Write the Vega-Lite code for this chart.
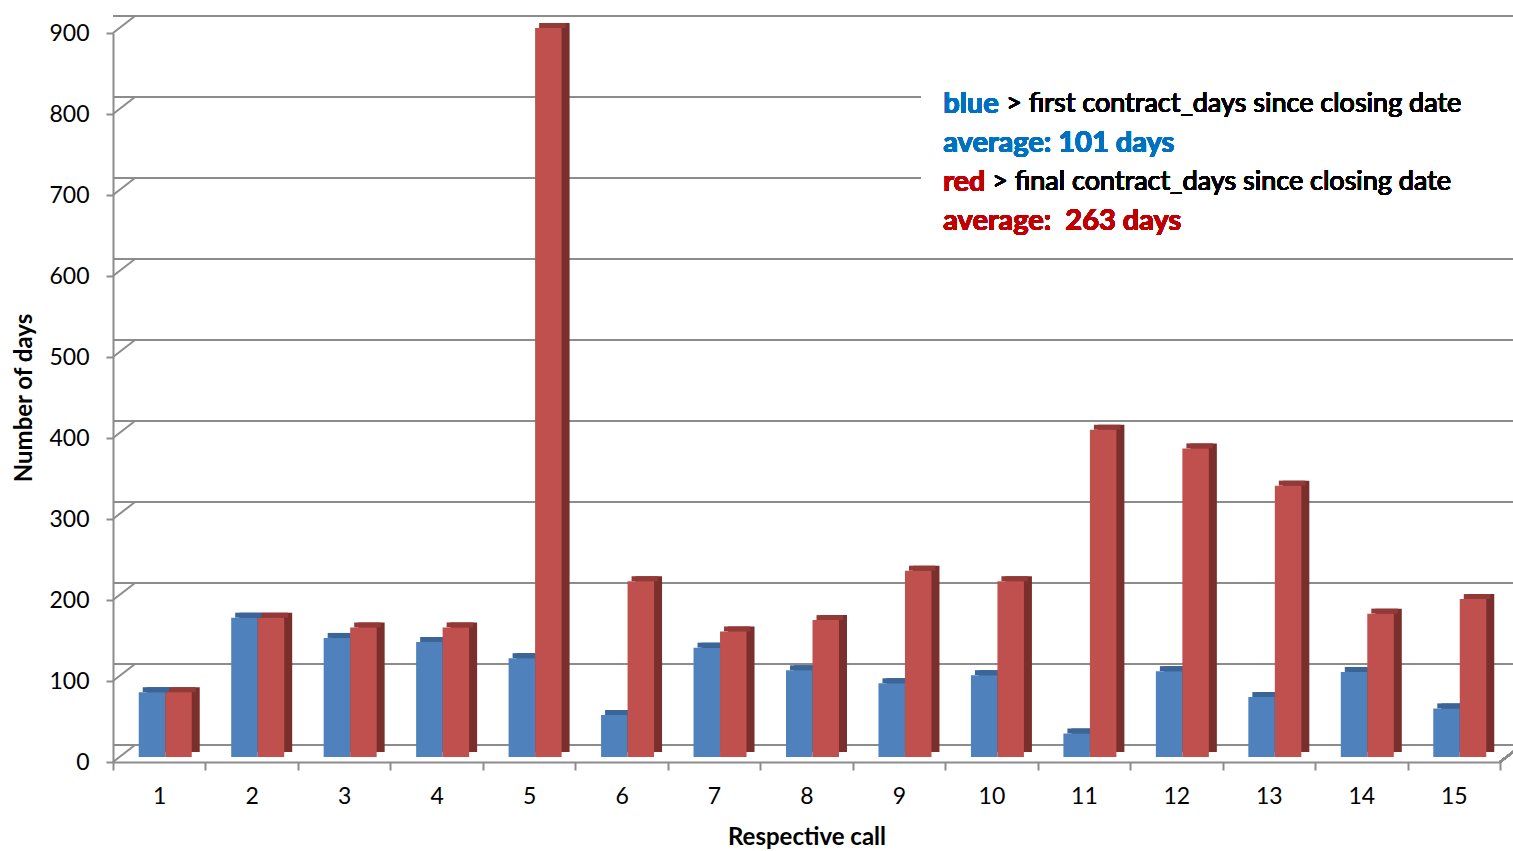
{
  "$schema": "https://vega.github.io/schema/vega-lite/v6.json",
  "width": 1387,
  "height": 729,
  "autosize": {"type": "none"},
  "padding": {"left": 113, "top": 33, "right": 13, "bottom": 89},
  "background": "white",
  "config": {"view": {"stroke": null}, "font": "Lato"},
  "datasets": {
    "calls": [
      {"call": 1, "series": "first", "days": 80}, {"call": 1, "series": "final", "days": 80},
      {"call": 2, "series": "first", "days": 172}, {"call": 2, "series": "final", "days": 172},
      {"call": 3, "series": "first", "days": 147}, {"call": 3, "series": "final", "days": 160},
      {"call": 4, "series": "first", "days": 142}, {"call": 4, "series": "final", "days": 160},
      {"call": 5, "series": "first", "days": 122}, {"call": 5, "series": "final", "days": 900},
      {"call": 6, "series": "first", "days": 52}, {"call": 6, "series": "final", "days": 217},
      {"call": 7, "series": "first", "days": 135}, {"call": 7, "series": "final", "days": 155},
      {"call": 8, "series": "first", "days": 107}, {"call": 8, "series": "final", "days": 169},
      {"call": 9, "series": "first", "days": 91}, {"call": 9, "series": "final", "days": 230},
      {"call": 10, "series": "first", "days": 101}, {"call": 10, "series": "final", "days": 217},
      {"call": 11, "series": "first", "days": 29}, {"call": 11, "series": "final", "days": 404},
      {"call": 12, "series": "first", "days": 106}, {"call": 12, "series": "final", "days": 381},
      {"call": 13, "series": "first", "days": 74}, {"call": 13, "series": "final", "days": 335},
      {"call": 14, "series": "first", "days": 105}, {"call": 14, "series": "final", "days": 177},
      {"call": 15, "series": "first", "days": 60}, {"call": 15, "series": "final", "days": 195}
    ],
    "ticks": [{"v": 0}, {"v": 100}, {"v": 200}, {"v": 300}, {"v": 400}, {"v": 500}, {"v": 600}, {"v": 700}, {"v": 800}, {"v": 900}]
  },
  "data": {"name": "calls"},
  "encoding": {
    "x": {
      "field": "call", "type": "ordinal",
      "scale": {"type": "band", "paddingInner": 0, "paddingOuter": 0},
      "axis": {
        "title": "Respective call", "labelAngle": 0, "tickBand": "extent", "grid": false,
        "labelFontSize": 23, "labelColor": "#000", "labelPadding": 15,
        "tickSize": 8, "tickColor": "#8c8c8c", "tickWidth": 2,
        "domainColor": "#8c8c8c", "domainWidth": 2,
        "titleFontSize": 24, "titleFontWeight": "bold", "titleColor": "#000", "titlePadding": 17
      }
    }
  },
  "layer": [
    {
      "data": {"name": "ticks"},
      "mark": {"type": "rule", "color": "#8c8c8c", "strokeWidth": 2, "xOffset": 22, "x2Offset": 22, "yOffset": -17},
      "encoding": {
        "x": null,
        "y": {
          "field": "v", "type": "quantitative",
          "scale": {"domain": [0, 900], "nice": false},
          "axis": {
            "title": "Number of days", "values": [0, 100, 200, 300, 400, 500, 600, 700, 800, 900],
            "grid": false, "labelFontSize": 23, "labelColor": "#000", "labelPadding": 17,
            "tickSize": 7, "tickColor": "#8c8c8c", "tickWidth": 2,
            "domainColor": "#8c8c8c", "domainWidth": 2,
            "titleFontSize": 24, "titleFontWeight": "bold", "titleColor": "#000", "titlePadding": 12
          }
        }
      }
    },
    {
      "data": {"name": "ticks"},
      "mark": {"type": "rule", "color": "#8c8c8c", "strokeWidth": 2, "x2Offset": 22, "y2Offset": -17},
      "encoding": {
        "x": {"datum": 1, "bandPosition": 0},
        "x2": {"datum": 1, "bandPosition": 0},
        "y": {"field": "v", "type": "quantitative"},
        "y2": {"field": "v"}
      }
    },
    {
      "mark": {"type": "rule", "color": "#8c8c8c", "strokeWidth": 2, "x2Offset": 22, "y2Offset": -17},
      "encoding": {
        "x": {"datum": 15, "bandPosition": 1},
        "x2": {"datum": 15, "bandPosition": 1},
        "y": {"datum": 0, "type": "quantitative"},
        "y2": {"datum": 0}
      }
    },
    {
      "mark": {"type": "rect", "color": "white", "xOffset": -24, "x2Offset": 40},
      "encoding": {
        "x": {"datum": 10, "bandPosition": 0},
        "x2": {"datum": 15, "bandPosition": 1},
        "y": {"datum": 855, "type": "quantitative"},
        "y2": {"datum": 640}
      }
    },
    {
      "transform": [{"filter": "datum.series === 'first'"}],
      "mark": {"type": "bar", "width": {"band": 0.2865}, "xOffset": 0.75, "yOffset": -10, "y2Offset": -10, "color": "#2c4d75"},
      "encoding": {"y": {"field": "days", "type": "quantitative"}, "y2": {"datum": 0}}
    },
    {
      "transform": [{"filter": "datum.series === 'final'"}],
      "mark": {"type": "bar", "width": {"band": 0.2865}, "xOffset": 27.25, "yOffset": -10, "y2Offset": -10, "color": "#7b2f2d"},
      "encoding": {"y": {"field": "days", "type": "quantitative"}, "y2": {"datum": 0}}
    },
    {
      "transform": [{"filter": "datum.series === 'first'"}],
      "mark": {"type": "bar", "width": {"band": 0.2865}, "xOffset": -3.25, "yOffset": -10, "y2Offset": -5, "color": "#3a6596"},
      "encoding": {"y": {"field": "days", "type": "quantitative"}, "y2": {"field": "days"}}
    },
    {
      "transform": [{"filter": "datum.series === 'final'"}],
      "mark": {"type": "bar", "width": {"band": 0.2865}, "xOffset": 23.25, "yOffset": -10, "y2Offset": -5, "color": "#933a37"},
      "encoding": {"y": {"field": "days", "type": "quantitative"}, "y2": {"field": "days"}}
    },
    {
      "transform": [{"filter": "datum.series === 'first'"}],
      "mark": {"type": "bar", "width": {"band": 0.2865}, "xOffset": -7.25, "yOffset": -5, "y2Offset": -5, "color": "#4f81bd"},
      "encoding": {"y": {"field": "days", "type": "quantitative"}, "y2": {"datum": 0}}
    },
    {
      "transform": [{"filter": "datum.series === 'final'"}],
      "mark": {"type": "bar", "width": {"band": 0.2865}, "xOffset": 19.25, "yOffset": -5, "y2Offset": -5, "color": "#c0504d"},
      "encoding": {"y": {"field": "days", "type": "quantitative"}, "y2": {"datum": 0}}
    },
    {
      "mark": {"type": "text", "text": "blue", "align": "left", "baseline": "middle", "dx": -2, "fontSize": 29, "fontWeight": "bold", "color": "#0070c0"},
      "encoding": {"x": {"datum": 10, "bandPosition": 0}, "y": {"datum": 812, "type": "quantitative"}}
    },
    {
      "mark": {"type": "text", "text": "> first contract_days since closing date", "align": "left", "baseline": "middle", "dx": 61, "fontSize": 27, "color": "#000"},
      "encoding": {"x": {"datum": 10, "bandPosition": 0}, "y": {"datum": 812, "type": "quantitative"}}
    },
    {
      "mark": {"type": "text", "text": "average: 101 days", "align": "left", "baseline": "middle", "dx": -2, "fontSize": 29, "fontWeight": "bold", "color": "#0070c0"},
      "encoding": {"x": {"datum": 10, "bandPosition": 0}, "y": {"datum": 764, "type": "quantitative"}}
    },
    {
      "mark": {"type": "text", "text": "red", "align": "left", "baseline": "middle", "dx": -2, "fontSize": 29, "fontWeight": "bold", "color": "#c00000"},
      "encoding": {"x": {"datum": 10, "bandPosition": 0}, "y": {"datum": 716, "type": "quantitative"}}
    },
    {
      "mark": {"type": "text", "text": "> final contract_days since closing date", "align": "left", "baseline": "middle", "dx": 47, "fontSize": 27, "color": "#000"},
      "encoding": {"x": {"datum": 10, "bandPosition": 0}, "y": {"datum": 716, "type": "quantitative"}}
    },
    {
      "mark": {"type": "text", "text": "average:\u00a0 263 days", "align": "left", "baseline": "middle", "dx": -2, "fontSize": 29, "fontWeight": "bold", "color": "#c00000"},
      "encoding": {"x": {"datum": 10, "bandPosition": 0}, "y": {"datum": 668, "type": "quantitative"}}
    }
  ]
}
